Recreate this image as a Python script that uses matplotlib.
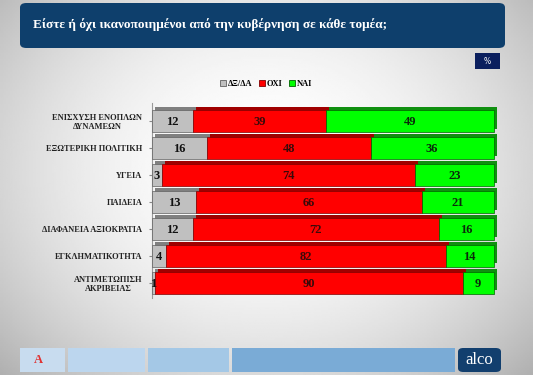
import numpy as np
import matplotlib.pyplot as plt
from matplotlib.patches import Rectangle, FancyBboxPatch

# Data
categories = ["ΕΝΙΣΧΥΣΗ ΕΝΟΠΛΩΝ\nΔΥΝΑΜΕΩΝ", "ΕΞΩΤΕΡΙΚΗ ΠΟΛΙΤΙΚΗ", "ΥΓΕΙΑ", "ΠΑΙΔΕΙΑ",
              "ΔΙΑΦΑΝΕΙΑ ΑΞΙΟΚΡΑΤΙΑ", "ΕΓΚΛΗΜΑΤΙΚΟΤΗΤΑ", "ΑΝΤΙΜΕΤΩΠΙΣΗ\nΑΚΡΙΒΕΙΑΣ"]
dk_da = [12, 16, 3, 13, 12, 4, 1]
oxi = [39, 48, 74, 66, 72, 82, 90]
nai = [49, 36, 23, 21, 16, 14, 9]
series_names = ["ΔΞ/ΔΑ", "ΟΧΙ", "ΝΑΙ"]

title = "Είστε ή όχι ικανοποιημένοι από την κυβέρνηση σε κάθε τομέα;"

serif = ["Liberation Serif", "DejaVu Serif"]
front = ["#c0c0c0", "#ff0000", "#00ff00"]
top = ["#808080", "#a00000", "#109010"]
edge = ["#606060", "#800000", "#006000"]
txtcol = ["#111111", "#3a0a0a", "#0a2a0a"]

fig = plt.figure(figsize=(5.33, 3.75), dpi=100)

# background gradient
bg = fig.add_axes([0, 0, 1, 1], zorder=-10)
yy, xx = np.mgrid[0:1:200j, 0:1:300j]
g = 1 - 0.3 * ((xx - 0.5) ** 2 * 2.2 + (yy - 0.45) ** 2 * 1.6)
bg.imshow(g, cmap="gray", vmin=0, vmax=1, aspect="auto", extent=[0, 1, 0, 1])
bg.axis("off")

# title bar
fig.patches.append(FancyBboxPatch((20 / 533, 1 - 48 / 375), 485 / 533, 45 / 375,
                                  boxstyle="round,pad=0,rounding_size=0.012",
                                  transform=fig.transFigure, facecolor="#0e3f6c",
                                  edgecolor="none", zorder=1))
fig.text(33 / 533, 1 - 25 / 375, title, color="white", fontsize=9.5,
         fontweight="bold", family=serif, va="center", ha="left")
fig.patches.append(Rectangle((475 / 533, 1 - 69 / 375), 25 / 533, 16 / 375,
                             transform=fig.transFigure, facecolor="#0b1f5e",
                             edgecolor="none"))
fig.text(487.5 / 533, 1 - 61 / 375, "%", color="white", fontsize=5.5,
         ha="center", va="center")

# main chart
ax = fig.add_axes([152 / 533, 1 - 298 / 375, 345 / 533, 195 / 375])
ax.set_facecolor("none")
y = np.arange(len(categories))
h = 0.8
dx, dy = 0.9, 0.12
left = np.zeros(len(categories))
for i, vals in enumerate([dk_da, oxi, nai]):
    vals = np.array(vals)
    # 3D top face (shifted up and right)
    ax.barh(y - dy, vals, left=left + dx, height=h, color=top[i], edgecolor="none", zorder=2)
    ax.barh(y, vals, left=left, height=h, color=front[i], edgecolor=edge[i],
            linewidth=0.5, zorder=3 + i * 0.01)
    for yi, v, l in zip(y, vals, left):
        xpos = l + v / 2 if v > 2 else l + 0.35
        ax.text(xpos, yi + 0.05, str(v), ha="center", va="center", fontsize=9,
                fontweight="bold", family=serif, color=txtcol[i], zorder=5)
    left = left + vals

ax.set_xlim(0, 101)
ax.set_ylim(6.56, -0.67)
ax.set_yticks(y)
ax.set_yticklabels(categories, family=serif, fontweight="bold", fontsize=6,
                   color="#222222", multialignment="center")
ax.tick_params(axis="y", length=2, color="#888888", pad=5)
ax.set_xticks([])
for s in ["top", "right", "bottom"]:
    ax.spines[s].set_visible(False)
ax.spines["left"].set_color("#999999")

# legend
handles = [Rectangle((0, 0), 1, 1, facecolor=front[i], edgecolor=edge[i], linewidth=0.6)
           for i in range(3)]
fig.legend(handles, series_names, loc="center", bbox_to_anchor=(266 / 533, 1 - 84 / 375),
           ncol=3, frameon=False, handlelength=0.7, handleheight=0.7, handletextpad=0.2,
           columnspacing=0.8, prop={"family": serif, "weight": "bold", "size": 6})

# footer
footer = [(20, 65, "#c8dcef"), (68, 145, "#bcd6ee"), (148, 229, "#a4c8e6"),
          (232, 455, "#7aabd6")]
for x0, x1, c in footer:
    fig.patches.append(Rectangle((x0 / 533, 1 - 372 / 375), (x1 - x0) / 533, 24 / 375,
                                 transform=fig.transFigure, facecolor=c, edgecolor="none"))
fig.patches.append(FancyBboxPatch((458 / 533, 1 - 372 / 375), 43 / 533, 24 / 375,
                                  boxstyle="round,pad=0,rounding_size=0.01",
                                  transform=fig.transFigure, facecolor="#123f6e",
                                  edgecolor="none"))
fig.text(479.5 / 533, 1 - 360 / 375, "alco", color="white", fontsize=12,
         family=serif, ha="center", va="center")
fig.text(38 / 533, 1 - 360 / 375, "A", color="#e03030", fontsize=9,
         fontweight="bold", family=serif, ha="center", va="center")

fig.savefig("out.png", dpi=100)
